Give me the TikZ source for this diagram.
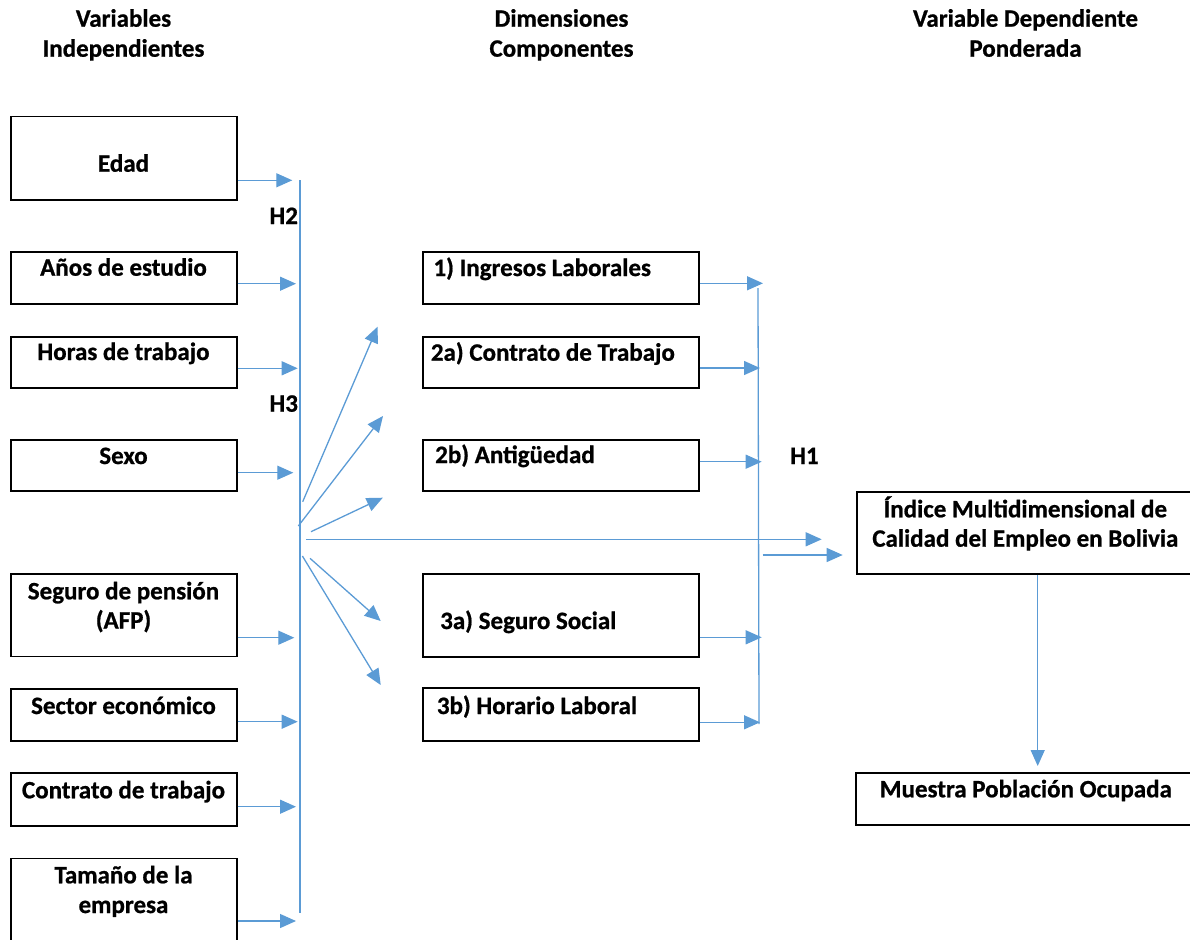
\documentclass[tikz,border=0pt]{standalone}
\usepackage{fontspec}
\setmainfont{Carlito}[BoldFeatures={FakeBold=0.8}]
\usetikzlibrary{arrows.meta}
\definecolor{lblue}{HTML}{5B9BD5}
\begin{document}
\begin{tikzpicture}[x=1pt,y=-1pt,
  box/.style={draw=black,line width=1.6pt,rectangle,inner sep=0pt},
  txt/.style={font=\fontsize{25}{30}\selectfont\bfseries,inner sep=0pt,anchor=base},
  txtl/.style={txt,anchor=base west},
  ln/.style={draw=lblue,line width=1.3pt},
  arr/.style={ln,-{Triangle[length=16pt,width=14pt]}}]
\useasboundingbox (0,0) rectangle (1190,939);

% headers
\node[txt] (hA1) at (123.5,26.7) {Variables};
\node[txt] (hA2) at (123.5,56.7) {Independientes};
\node[txt] (hB1) at (561.5,26.7) {Dimensiones};
\node[txt] (hB2) at (561.5,56.7) {Componentes};
\node[txt] (hC1) at (1025.5,26.7) {Variable Dependiente};
\node[txt] (hC2) at (1025.5,56.7) {Ponderada};

% left boxes
\node[box,minimum width=226pt,minimum height=83.3pt] (edad) at (123.7,158.35) {};
\node[box,minimum width=226pt,minimum height=52pt] (anos) at (123.7,277.7) {};
\node[box,minimum width=226pt,minimum height=51pt] (horas) at (123.7,362.2) {};
\node[box,minimum width=226pt,minimum height=51pt] (sexo) at (123.7,465.5) {};
\node[box,minimum width=226pt,minimum height=82.3pt] (seguro) at (123.7,615.2) {};
\node[box,minimum width=226pt,minimum height=52.3pt] (sector) at (123.7,714.85) {};
\node[box,minimum width=226pt,minimum height=53.3pt] (contrato) at (123.7,799.35) {};
\node[box,minimum width=226pt,minimum height=84pt] (tamano) at (123.7,900.3) {};

\node[txt] (tEdad) at (123.5,171.7) {Edad};
\node[txt] (tAnos) at (123.5,275.7) {Años de estudio};
\node[txt] (tHoras) at (123.5,360) {Horas de trabajo};
\node[txt] (tSexo) at (123.5,464) {Sexo};
\node[txt] (tSeg1) at (123.5,599.3) {Seguro de pensión};
\node[txt] (tSeg2) at (123.5,628.5) {(AFP)};
\node[txt] (tSector) at (123.5,714) {Sector económico};
\node[txt] (tContr) at (123.5,798.3) {Contrato de trabajo};
\node[txt] (tTam1) at (123.5,883.3) {Tamaño de la};
\node[txt] (tTam2) at (123.5,913) {empresa};

% middle boxes
\node[box,minimum width=276pt,minimum height=52.3pt] (ing) at (561,277.85) {};
\node[box,minimum width=276pt,minimum height=51pt] (con) at (561,362.2) {};
\node[box,minimum width=276pt,minimum height=51pt] (ant) at (561,465.5) {};
\node[box,minimum width=276pt,minimum height=82.7pt] (ss) at (561,615.35) {};
\node[box,minimum width=276pt,minimum height=53pt] (hor) at (561,714.5) {};

\node[txtl] (tIng) at (433.3,276) {1) Ingresos Laborales};
\node[txtl] (tCon) at (430.7,360.7) {2a) Contrato de Trabajo};
\node[txtl] (tAnt) at (435,463) {2b) Antigüedad};
\node[txtl] (tSS) at (440,629) {3a) Seguro Social};
\node[txtl] (tHor) at (436.7,714) {3b) Horario Laboral};

% right boxes
\node[box,minimum width=336.3pt,minimum height=82.3pt] (ind) at (1024.85,532.85) {};
\node[box,minimum width=337pt,minimum height=52.3pt] (mue) at (1024.5,798.85) {};
\node[txt] (tInd1) at (1025.3,517.3) {Índice Multidimensional de};
\node[txt] (tInd2) at (1025.3,546.7) {Calidad del Empleo en Bolivia};
\node[txt] (tMue) at (1025.8,797.3) {Muestra Población Ocupada};

% hypothesis labels
\node[txtl] (H2) at (269.3,224) {H2};
\node[txtl] (H3) at (269.3,411.7) {H3};
\node[txtl] (H1) at (790,464) {H1};

% left bus
\coordinate (busT) at (300,180);
\coordinate (busB) at (300,913.3);
\draw[ln] (busT) -- (busB);
\coordinate (t1) at (292.3,180.3);
\coordinate (t2) at (296,283.7);
\coordinate (t3) at (297.7,368.3);
\coordinate (t4) at (293.3,472.7);
\coordinate (t5) at (294.3,637.7);
\coordinate (t6) at (297.7,721.7);
\coordinate (t7) at (296,806.7);
\coordinate (t8) at (296,921);
\draw[arr] (edad.east |- t1) -- (t1);
\draw[arr] (anos.east |- t2) -- (t2);
\draw[arr] (horas.east |- t3) -- (t3);
\draw[arr] (sexo.east |- t4) -- (t4);
\draw[arr] (seguro.east |- t5) -- (t5);
\draw[arr] (sector.east |- t6) -- (t6);
\draw[arr] (contrato.east |- t7) -- (t7);
\draw[arr] (tamano.east |- t8) -- (t8);

% fan
\coordinate (fAs) at (302.7,501.7); \coordinate (fAt) at (377.6,326.7);
\coordinate (fBs) at (298.3,526);   \coordinate (fBt) at (383,416);
\coordinate (fCs) at (311,531.7);   \coordinate (fCt) at (382.8,497.7);
\coordinate (fHs) at (306,539.3);   \coordinate (fHt) at (821.7,539.3);
\coordinate (fDs) at (310,558.3);   \coordinate (fDt) at (380.7,621);
\coordinate (fEs) at (302.4,556);   \coordinate (fEt) at (380.7,685);
\draw[arr] (fAs) -- (fAt);
\draw[arr] (fBs) -- (fBt);
\draw[arr] (fCs) -- (fCt);
\draw[arr] (fHs) -- (fHt);
\draw[arr] (fDs) -- (fDt);
\draw[arr] (fEs) -- (fEt);

% right bus
\coordinate (bus2T) at (758,288);
\coordinate (bus2B) at (759,724);
\draw[ln] (bus2T) -- (bus2B);
\coordinate (m1) at (763,283.3);
\coordinate (m2) at (760,368);
\coordinate (m3) at (761.7,461.7);
\coordinate (m4) at (761.7,637.3);
\coordinate (m5) at (760,722.3);
\draw[arr] (ing.east |- m1) -- (m1);
\draw[arr] (con.east |- m2) -- (m2);
\draw[arr] (ant.east |- m3) -- (m3);
\draw[arr] (ss.east |- m4) -- (m4);
\draw[arr] (hor.east |- m5) -- (m5);

\coordinate (iS) at (762.7,555);
\coordinate (iT) at (842.7,555);
\draw[arr] (iS) -- (iT);

\coordinate (dT) at (1037.7,766);
\draw[arr] (ind.south -| dT) -- (dT);
\end{tikzpicture}
\end{document}
